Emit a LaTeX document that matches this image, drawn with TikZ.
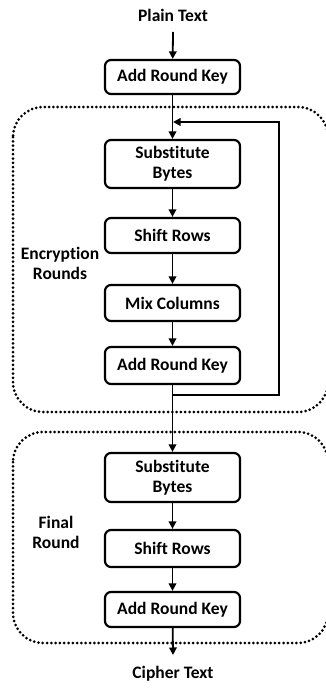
\documentclass[tikz,border=0pt]{standalone}
\usepackage{fontspec}
\setmainfont[Ligatures=NoCommon]{Carlito}
\usetikzlibrary{arrows.meta}
\begin{document}
\begin{tikzpicture}[x=1pt,y=-1pt,
  stage/.style={draw,line width=2.2pt,rounded corners=6pt,minimum width=135pt,align=center,font=\bfseries\fontsize{17.5}{20}\selectfont,inner sep=0pt},
  flow/.style={line width=1.8pt,-{Triangle[length=7.5pt,width=7.5pt]}},
  group/.style={line width=3pt,dash pattern=on 0pt off 4.3pt,line cap=round,rounded corners=30pt},
  lbl/.style={font=\bfseries\fontsize{17.5}{20}\selectfont,align=center}]
\useasboundingbox (0,0) rectangle (326,693);
% dotted round containers
\draw[group] (13,107) rectangle (328,412);
\draw[group] (13,432) rectangle (328,643);
% texts
\node[lbl] (plain) at (173,15) {Plain Text};
\node[lbl] (cipher) at (173,674) {Cipher Text};
\node[lbl] (enc) at (60,263) {Encryption\\Rounds};
\node[lbl] (fin) at (56,532) {Final\\Round};
% stages
\node[stage,minimum height=34pt] (ark0) at (172.5,77) {Add Round Key};
\node[stage,minimum height=48pt] (sb1) at (172.5,164) {Substitute\\Bytes};
\node[stage,minimum height=35pt] (sr1) at (172.5,235.5) {Shift Rows};
\node[stage,minimum height=36pt] (mc1) at (172.5,303) {Mix Columns};
\node[stage,minimum height=37pt] (ark1) at (172.5,365.5) {Add Round Key};
\node[stage,minimum height=49pt] (sb2) at (172.5,477.5) {Substitute\\Bytes};
\node[stage,minimum height=37pt] (sr2) at (172.5,548.5) {Shift Rows};
\node[stage,minimum height=35pt] (ark2) at (172.5,609.5) {Add Round Key};
% loop-back junction points
\coordinate (jin) at (173,122);
\coordinate (jout) at (173,395);
\coordinate (pt) at (173,32);
\coordinate (ct) at (173,655);
% connectors
\draw[flow] (pt) -- (ark0);
\draw[flow] (ark0) -- (sb1);
\draw[flow] (sb1) -- (sr1);
\draw[flow] (sr1) -- (mc1);
\draw[flow] (mc1) -- (ark1);
\draw[flow] (ark1) -- (sb2);
\draw[flow] (sb2) -- (sr2);
\draw[flow] (sr2) -- (ark2);
\draw[flow] (ark2) -- (ct);
\draw[flow] (jout) -| (279,122) -- (jin);
\end{tikzpicture}
\end{document}
